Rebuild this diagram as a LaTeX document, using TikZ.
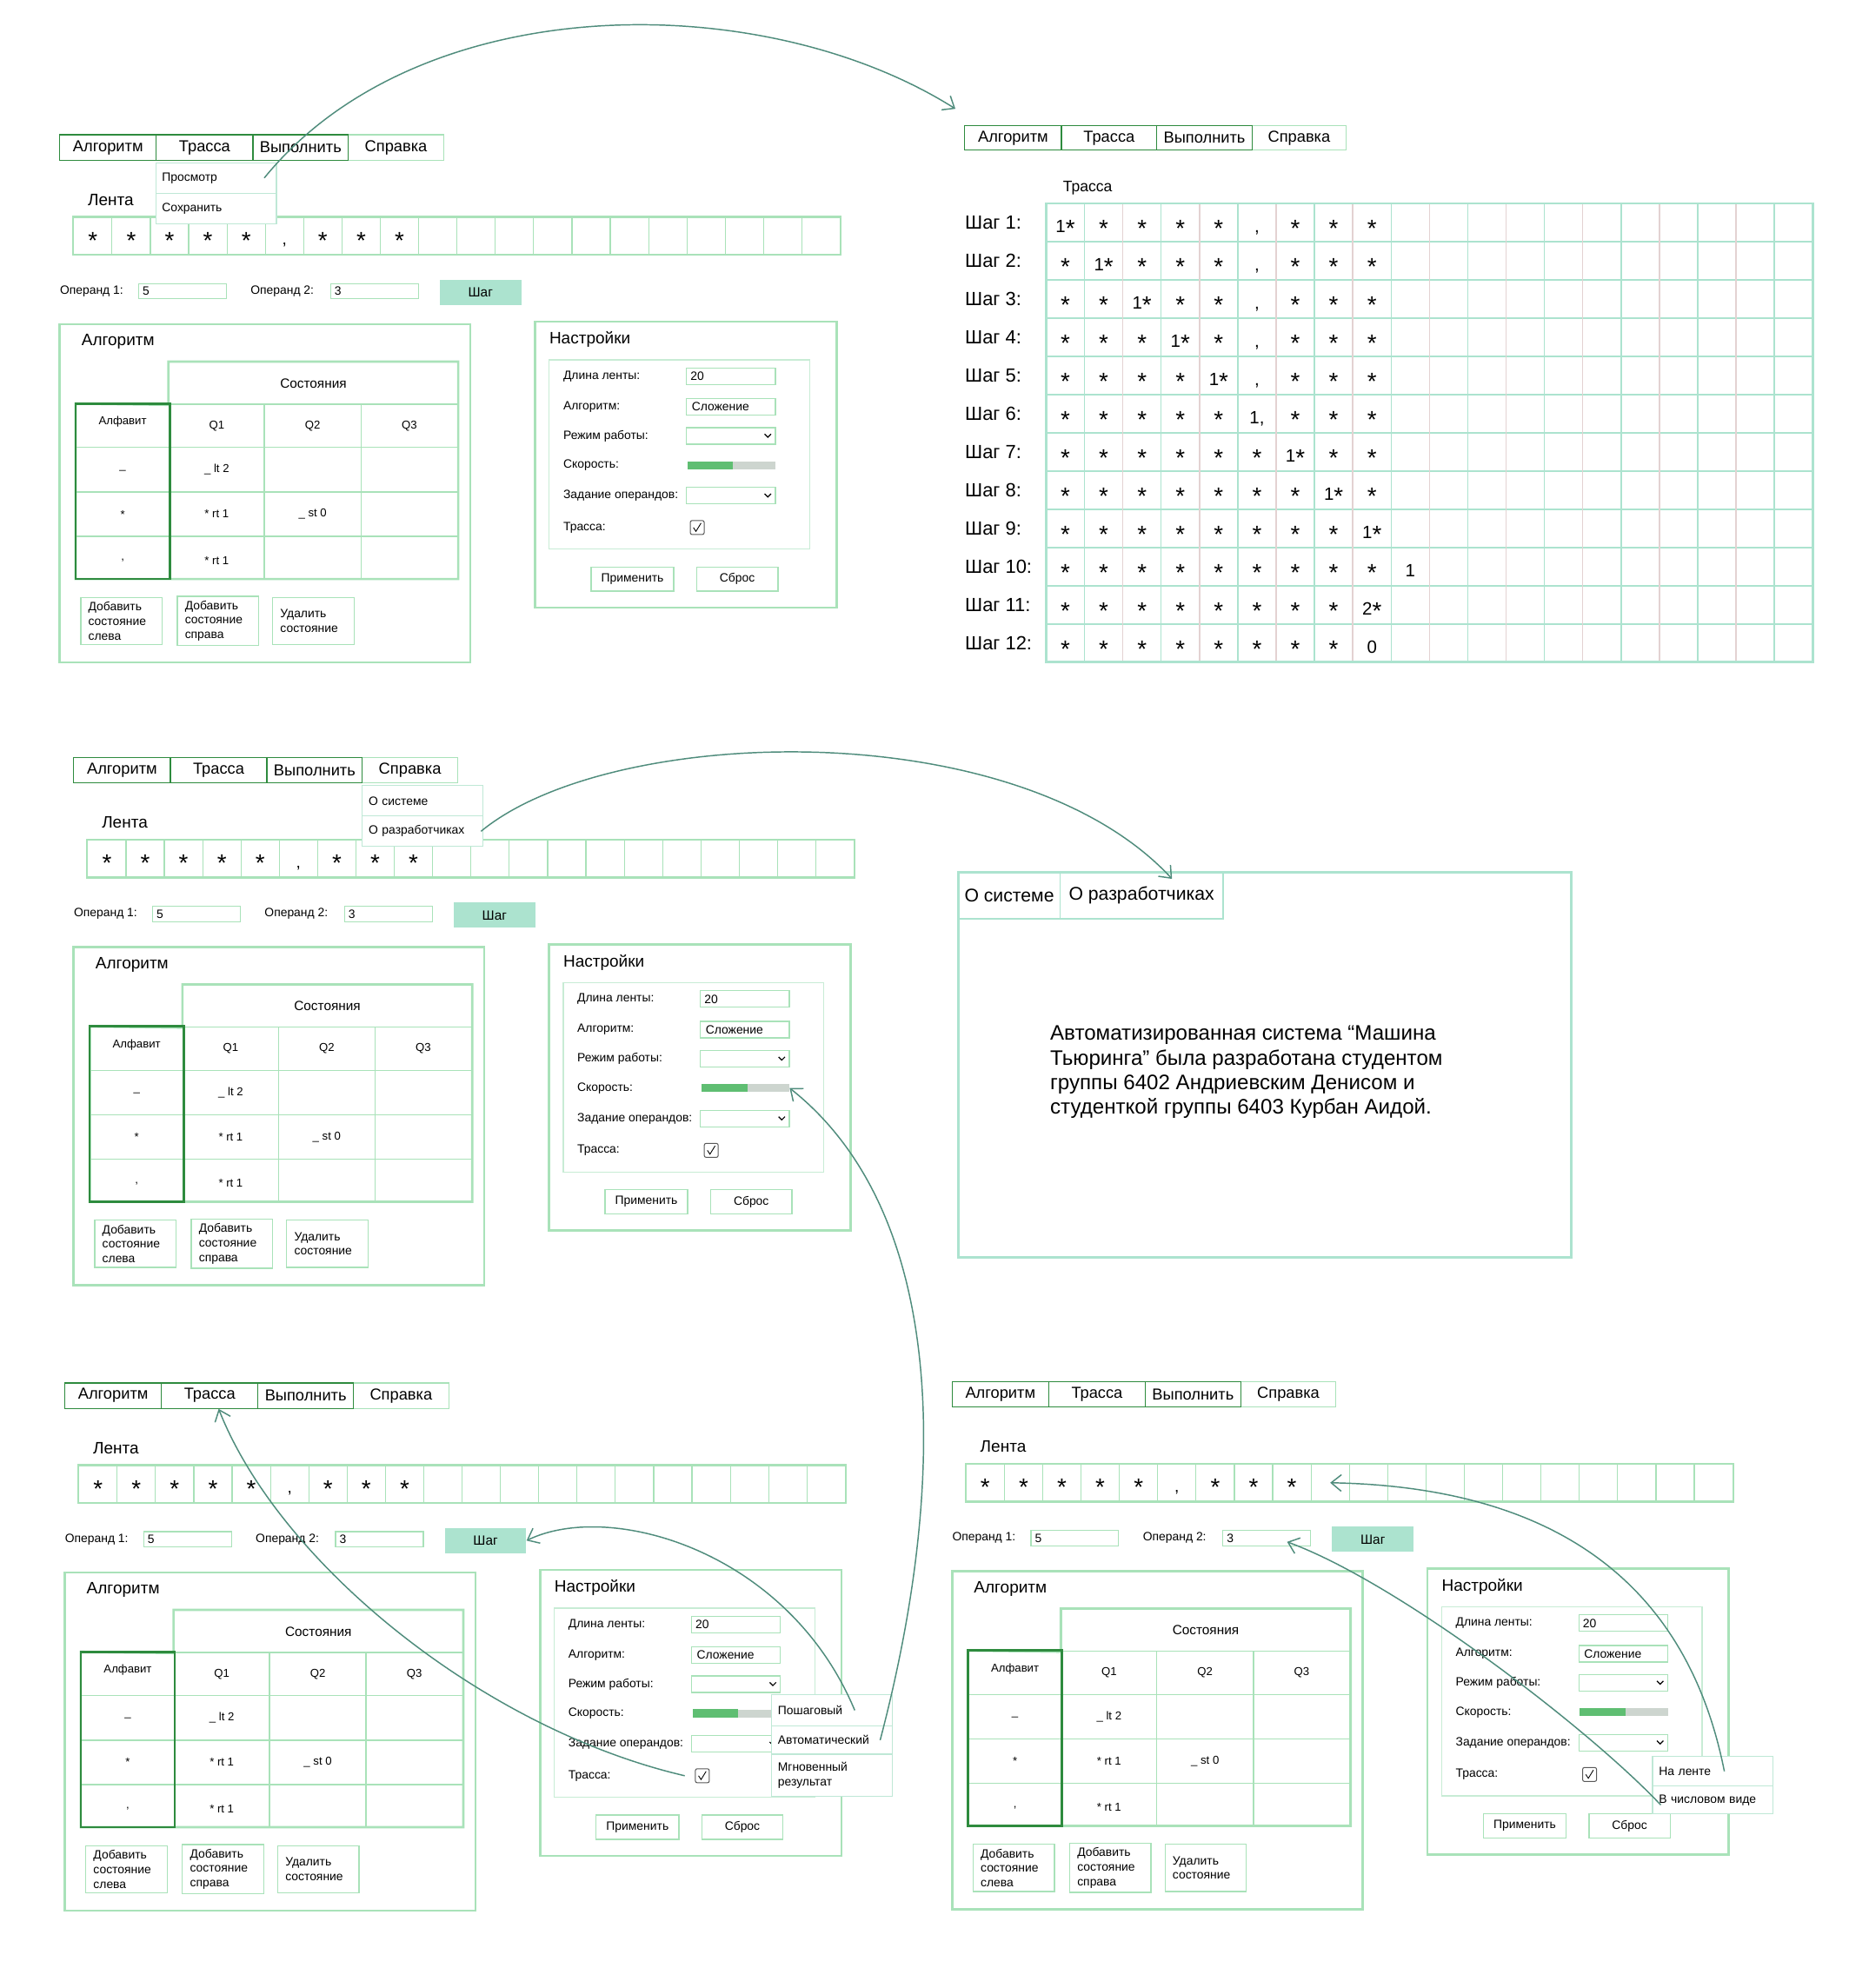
\documentclass[tikz,border=0pt]{standalone}
\usepackage{fontspec}
\setmainfont{Liberation Sans}
\usetikzlibrary{positioning, arrows.meta}

\definecolor{lgreen}{HTML}{A9E2B9}
\definecolor{mint}{HTML}{ACE3CF}
\definecolor{dgreen}{HTML}{2E8B3E}
\definecolor{arrowc}{HTML}{4F8C7C}
\definecolor{slidegreen}{HTML}{5FBE72}
\definecolor{slidegrey}{HTML}{CDD5CF}
\definecolor{pinkline}{HTML}{E3D2D2}
\definecolor{inline}{HTML}{C8ECD5}
\definecolor{popline}{HTML}{BFE8D6}

% a larger asterisk for the tape cells
\newcommand{\st}{\raisebox{-3.3pt}{\fontsize{19}{19}\selectfont *}}

\tikzset{
  tab/.style={draw=dgreen, line width=.8pt, minimum height=20pt, inner sep=0pt, font=\fontsize{12.5}{15}\selectfont},
  cell/.style={draw=lgreen, line width=.8pt, minimum width=30.15pt, minimum height=29pt, inner sep=0pt},
  sym/.style={anchor=base, inner sep=0pt, font=\fontsize{13}{15}\selectfont},
  lbl/.style={anchor=west, inner sep=0pt, font=\fontsize{9.5}{11.5}\selectfont},
  ptitle/.style={anchor=west, inner sep=0pt, font=\fontsize{13}{15}\selectfont},
  field/.style={draw=lgreen, line width=.8pt, minimum width=69pt, minimum height=12pt, inner sep=0pt},
  stepbtn/.style={fill=mint, minimum width=64pt, minimum height=20pt, inner sep=0pt, font=\fontsize{10.5}{12}\selectfont},
  panel/.style={draw=lgreen, line width=1.8pt, inner sep=0pt},
  tcell/.style={draw=lgreen, line width=1pt, inner sep=0pt},
  ttext/.style={inner sep=0pt, font=\fontsize{9}{11}\selectfont},
  btn/.style={draw=lgreen, line width=.9pt, align=left, text width=52pt, inner xsep=6pt, minimum height=37pt, font=\fontsize{9.5}{11.5}\selectfont},
  sbtn/.style={draw=lgreen, line width=.9pt, minimum height=19pt, inner sep=0pt, font=\fontsize{9.5}{11.5}\selectfont},
  pop/.style={draw=popline, fill=white, line width=.8pt, text width=85pt, align=left, inner xsep=5pt, inner ysep=0pt, font=\fontsize{9.5}{11.5}\selectfont},
  tsym/.style={anchor=base, inner sep=0pt, font=\fontsize{14}{16}\selectfont},
  steplbl/.style={anchor=west, inner sep=0pt, font=\fontsize{15}{18}\selectfont},
  link/.style={draw=arrowc, line width=1pt, -{Straight Barb[length=8pt,width=13pt]}},
}

% one copy of the main window, shifted
\newcommand{\mainwin}[3]{%
\begin{scope}[shift={(#2,#3)}, name prefix=#1-]
  % menu
  \node[tab, draw=lgreen, minimum width=75pt] (hlp) at (311.5,116) {Справка};
  \node[tab, minimum width=76pt] (alg) at (85,116) {Алгоритм};
  \node[tab, minimum width=76pt] (trc) at (161,116) {Трасса};
  \node[tab, minimum width=75pt] (run) at (236.5,116) {Выполнить};
  % tape
  \node[ptitle] (tapelbl) at (69,157) {Лента};
  \foreach \i in {1,...,20}
    \node[cell] (t\i) at ({42.925+30.15*\i},185.5) {};
  \draw[lgreen, line width=1.6pt] (t1.north west) rectangle (t20.south east);
  \foreach \s [count=\i] in {\st,\st,\st,\st,\st,{,},\st,\st,\st}
    \node[sym] (s\i) at ({42.925+30.15*\i},192.5) {\s};
  % operands
  \node[lbl] (op1) at (47,229) {Операнд 1:};
  \node[field] (f1) at (143.5,229) {};
  \node[lbl] (v1) at (112,229) {5};
  \node[lbl] (op2) at (197,229) {Операнд 2:};
  \node[field] (f2) at (294.5,229) {};
  \node[lbl] (v2) at (263,229) {3};
  \node[stepbtn] (step) at (378,230) {Шаг};
  % algorithm panel
  \node[panel, minimum width=323pt, minimum height=266pt] (algp) at (208.5,388) {};
  \node[ptitle] (algt) at (64,269) {Алгоритм};
  \node[tcell, minimum width=227pt, minimum height=33pt, font=\fontsize{10.5}{12}\selectfont] (states) at (246.5,301.5) {Состояния};
  \foreach \cx/\w [count=\c] in {96.5/73,170.5/75,246/76,322/76}
    \foreach \cy/\h [count=\r] in {335/34,369.5/35,404.5/35,438.5/33}
      \node[tcell, minimum width=\w pt, minimum height=\h pt] (g\r\c) at (\cx,\cy) {};
  \draw[lgreen, line width=1.8pt] (g11.north west) -- (states.south west) -- (states.north west)
    -- (states.north east) -- (g44.south east) -- (g41.south west) -- cycle;
  \draw[dgreen, line width=1.8pt] (g11.north west) rectangle (g41.south east);
  \node[ttext] (a0) at (96.5,332) {Алфавит};
  \node[ttext] (q1) at (g12) {Q1};
  \node[ttext] (q2) at (g13) {Q2};
  \node[ttext] (q3) at (g14) {Q3};
  \node[ttext] (a1) at (g21) {\_};
  \node[ttext] (a2) at (g31) {*};
  \node[ttext] (a3) at (96.5,441) {,};
  \node[ttext] (r1) at (g22) {\_ lt 2};
  \node[ttext] (r2) at (g32) {* rt 1};
  \node[ttext] (r3) at (g33) {\_ st 0};
  \node[ttext] (r4) at (170.5,441) {* rt 1};
  \node[btn] (addl) at (95.5,488.5) {Добавить\\состояние\\слева};
  \node[btn] (addr) at (171.5,488.5) {Добавить\\состояние\\справа};
  \node[btn] (del) at (246.5,488.5) {Удалить\\состояние};
  % settings panel
  \node[panel, minimum width=237pt, minimum height=225pt] (setp) at (539.5,365.5) {};
  \node[ptitle] (sett) at (432,267) {Настройки};
  \node[draw=inline, line width=1pt, minimum width=205pt, minimum height=149pt] (setb) at (534.5,357.5) {};
  \foreach \t/\y [count=\k] in {Длина ленты:/296, Алгоритм:/320, Режим работы:/343,
      Скорость:/366, Задание операндов:/390, Трасса:/415}
    \node[lbl] (sl\k) at (443,\y) {\t};
  \node[field, minimum width=70pt, minimum height=13pt] (len) at (575,296) {};
  \node[lbl] (lenv) at (543,296) {20};
  \node[field, minimum width=70pt, minimum height=13pt] (algf) at (575,320) {};
  \node[lbl] (algv) at (544,320) {Сложение};
  \node[field, minimum width=70pt, minimum height=13pt] (mode) at (575,343) {};
  \draw[line width=.8pt] (601.5,341.5) -- (604,344) -- (606.5,341.5);
  \node[fill=slidegrey, minimum width=69pt, minimum height=6pt, inner sep=0pt] (speed) at (575.5,366) {};
  \fill[slidegreen] (speed.north west) rectangle ([xshift=36pt]speed.south west);
  \node[field, minimum width=70pt, minimum height=13pt] (ops) at (575,390) {};
  \draw[line width=.8pt] (601.5,388.5) -- (604,391) -- (606.5,388.5);
  \node[draw=black!65, rounded corners=1.5pt, minimum size=11pt, inner sep=0pt, line width=.7pt] (chk) at (548.5,415) {};
  \draw[line width=.6pt] (545.5,415) -- (547.5,418) -- (551.5,411.5);
  \node[sbtn, minimum width=65pt] (apply) at (497.5,455.5) {Применить};
  \node[sbtn, minimum width=64pt] (reset) at (580,455.5) {Сброс};
\end{scope}}

% one row of the trace table
\newcommand{\traceRow}[2]{%
  \foreach \s [count=\c] in {#2}
    \node[tsym] (T-c#1-\c) at ({807.925+30.15*\c},{144.96+30.08*#1+8}) {\s};}

\begin{document}
\begin{tikzpicture}[x=1pt, y=-1pt]
  \path[fill=white, use as bounding box] (0,0) rectangle (1470,1564);

  \mainwin{A}{0}{0}
  \mainwin{B}{11}{490}
  \mainwin{C}{4}{982}
  \mainwin{D}{702}{981}

  % trace window
  \node[tab, draw=lgreen, minimum width=74pt, minimum height=19pt] (T-hlp) at (1022,108.5) {Справка};
  \node[tab, minimum width=76pt, minimum height=19pt] (T-alg) at (797,108.5) {Алгоритм};
  \node[tab, minimum width=75pt, minimum height=19pt] (T-trc) at (872.5,108.5) {Трасса};
  \node[tab, minimum width=75pt, minimum height=19pt] (T-run) at (947.5,108.5) {Выполнить};
  \node[ptitle, font=\fontsize{12}{14}\selectfont] (T-title) at (836,148) {Трасса};
  \foreach \r in {1,...,11}
    \draw[mint, line width=1pt] (823,{160+30.08*\r}) -- (1426,{160+30.08*\r});
  \foreach \c in {1,3,...,19}
    \draw[mint, line width=1pt] ({823+30.15*\c},160) -- ({823+30.15*\c},521);
  \foreach \c in {2,4,...,18}
    \draw[pinkline, line width=1pt] ({823+30.15*\c},160) -- ({823+30.15*\c},521);
  \draw[mint, line width=2pt] (823,160) rectangle (1426,521);
  \foreach \r in {1,...,12}
    \node[steplbl] (T-s\r) at (759,{144.96+30.08*\r}) {Шаг \r:};
  \traceRow{1}{1\st,\st,\st,\st,\st,{,},\st,\st,\st}
  \traceRow{2}{\st,1\st,\st,\st,\st,{,},\st,\st,\st}
  \traceRow{3}{\st,\st,1\st,\st,\st,{,},\st,\st,\st}
  \traceRow{4}{\st,\st,\st,1\st,\st,{,},\st,\st,\st}
  \traceRow{5}{\st,\st,\st,\st,1\st,{,},\st,\st,\st}
  \traceRow{6}{\st,\st,\st,\st,\st,{1,},\st,\st,\st}
  \traceRow{7}{\st,\st,\st,\st,\st,\st,1\st,\st,\st}
  \traceRow{8}{\st,\st,\st,\st,\st,\st,\st,1\st,\st}
  \traceRow{9}{\st,\st,\st,\st,\st,\st,\st,\st,1\st}
  \traceRow{10}{\st,\st,\st,\st,\st,\st,\st,\st,\st,1}
  \traceRow{11}{\st,\st,\st,\st,\st,\st,\st,\st,2\st}
  \traceRow{12}{\st,\st,\st,\st,\st,\st,\st,\st,0}

  % about window
  \node[draw=mint, line width=2.2pt, minimum width=482pt, minimum height=303pt] (O-box) at (995,837.5) {};
  \node[draw=mint, line width=1.2pt, minimum width=80pt, minimum height=37pt, font=\fontsize{14.5}{17}\selectfont] (O-sys) at (794,704.5) {О системе};
  \node[draw=mint, line width=1.2pt, minimum width=128pt, minimum height=37pt, font=\fontsize{14.5}{17}\selectfont] (O-dev) at (898,704.5) {О разработчиках};
  \node[anchor=north west, align=left, inner sep=0pt, font=\fontsize{16.5}{19.3}\selectfont] (O-txt) at (826,807)
    {Автоматизированная система “Машина\\Тьюринга” была разработана студентом\\группы 6402 Андриевским Денисом и\\студенткой группы 6403 Курбан Аидой.};

  % open menus
  \node[pop, minimum height=24pt] (A-view) at (170,140) {Просмотр};
  \node[pop, minimum height=24pt] (A-save) at (170,164) {Сохранить};
  \node[pop, minimum height=24pt] (B-sys) at (332.5,630) {О системе};
  \node[pop, minimum height=24pt] (B-dev) at (332.5,654) {О разработчиках};
  \node[pop, minimum height=25pt] (C-stepw) at (654.5,1345.5) {Пошаговый};
  \node[pop, minimum height=22pt] (C-auto) at (654.5,1369) {Автоматический};
  \node[pop, minimum height=33pt] (C-inst) at (654.5,1396.5) {Мгновенный\\результат};
  \node[pop, minimum height=23pt] (D-tape) at (1347.5,1393.5) {На ленте};
  \node[pop, minimum height=22pt] (D-num) at (1347.5,1416) {В числовом виде};

  % links
  \draw[link] ([xshift=-10pt]A-view.east) .. controls (330,-10) and (600,-10) .. ([xshift=-7pt,yshift=13pt]T-alg.north west);
  \draw[link] ([xshift=-2pt]B-dev.east) .. controls (480,570) and (800,560) .. ([xshift=24pt,yshift=-6pt]O-dev.north);
  \draw[link] ([xshift=-10pt]C-auto.east) .. controls (750,1150) and (740,950) .. (B-speed.east);
  \draw[link] ([xshift=-30pt]C-stepw.east) .. controls (620,1220) and (480,1180) .. (C-step.east);
  \draw[link] ([xshift=-8pt]C-chk.west) .. controls (380,1360) and (220,1230) .. ([xshift=7pt]C-trc.south);
  \draw[link] ([xshift=9pt]D-tape.center) .. controls (1330,1260) and (1240,1170) .. (D-t10.center);
  \draw[link] ([xshift=-41pt,yshift=-4pt]D-num.center) .. controls (1250,1360) and (1100,1245) .. ([xshift=16pt,yshift=-3pt]D-f2.center);
\end{tikzpicture}
\end{document}
